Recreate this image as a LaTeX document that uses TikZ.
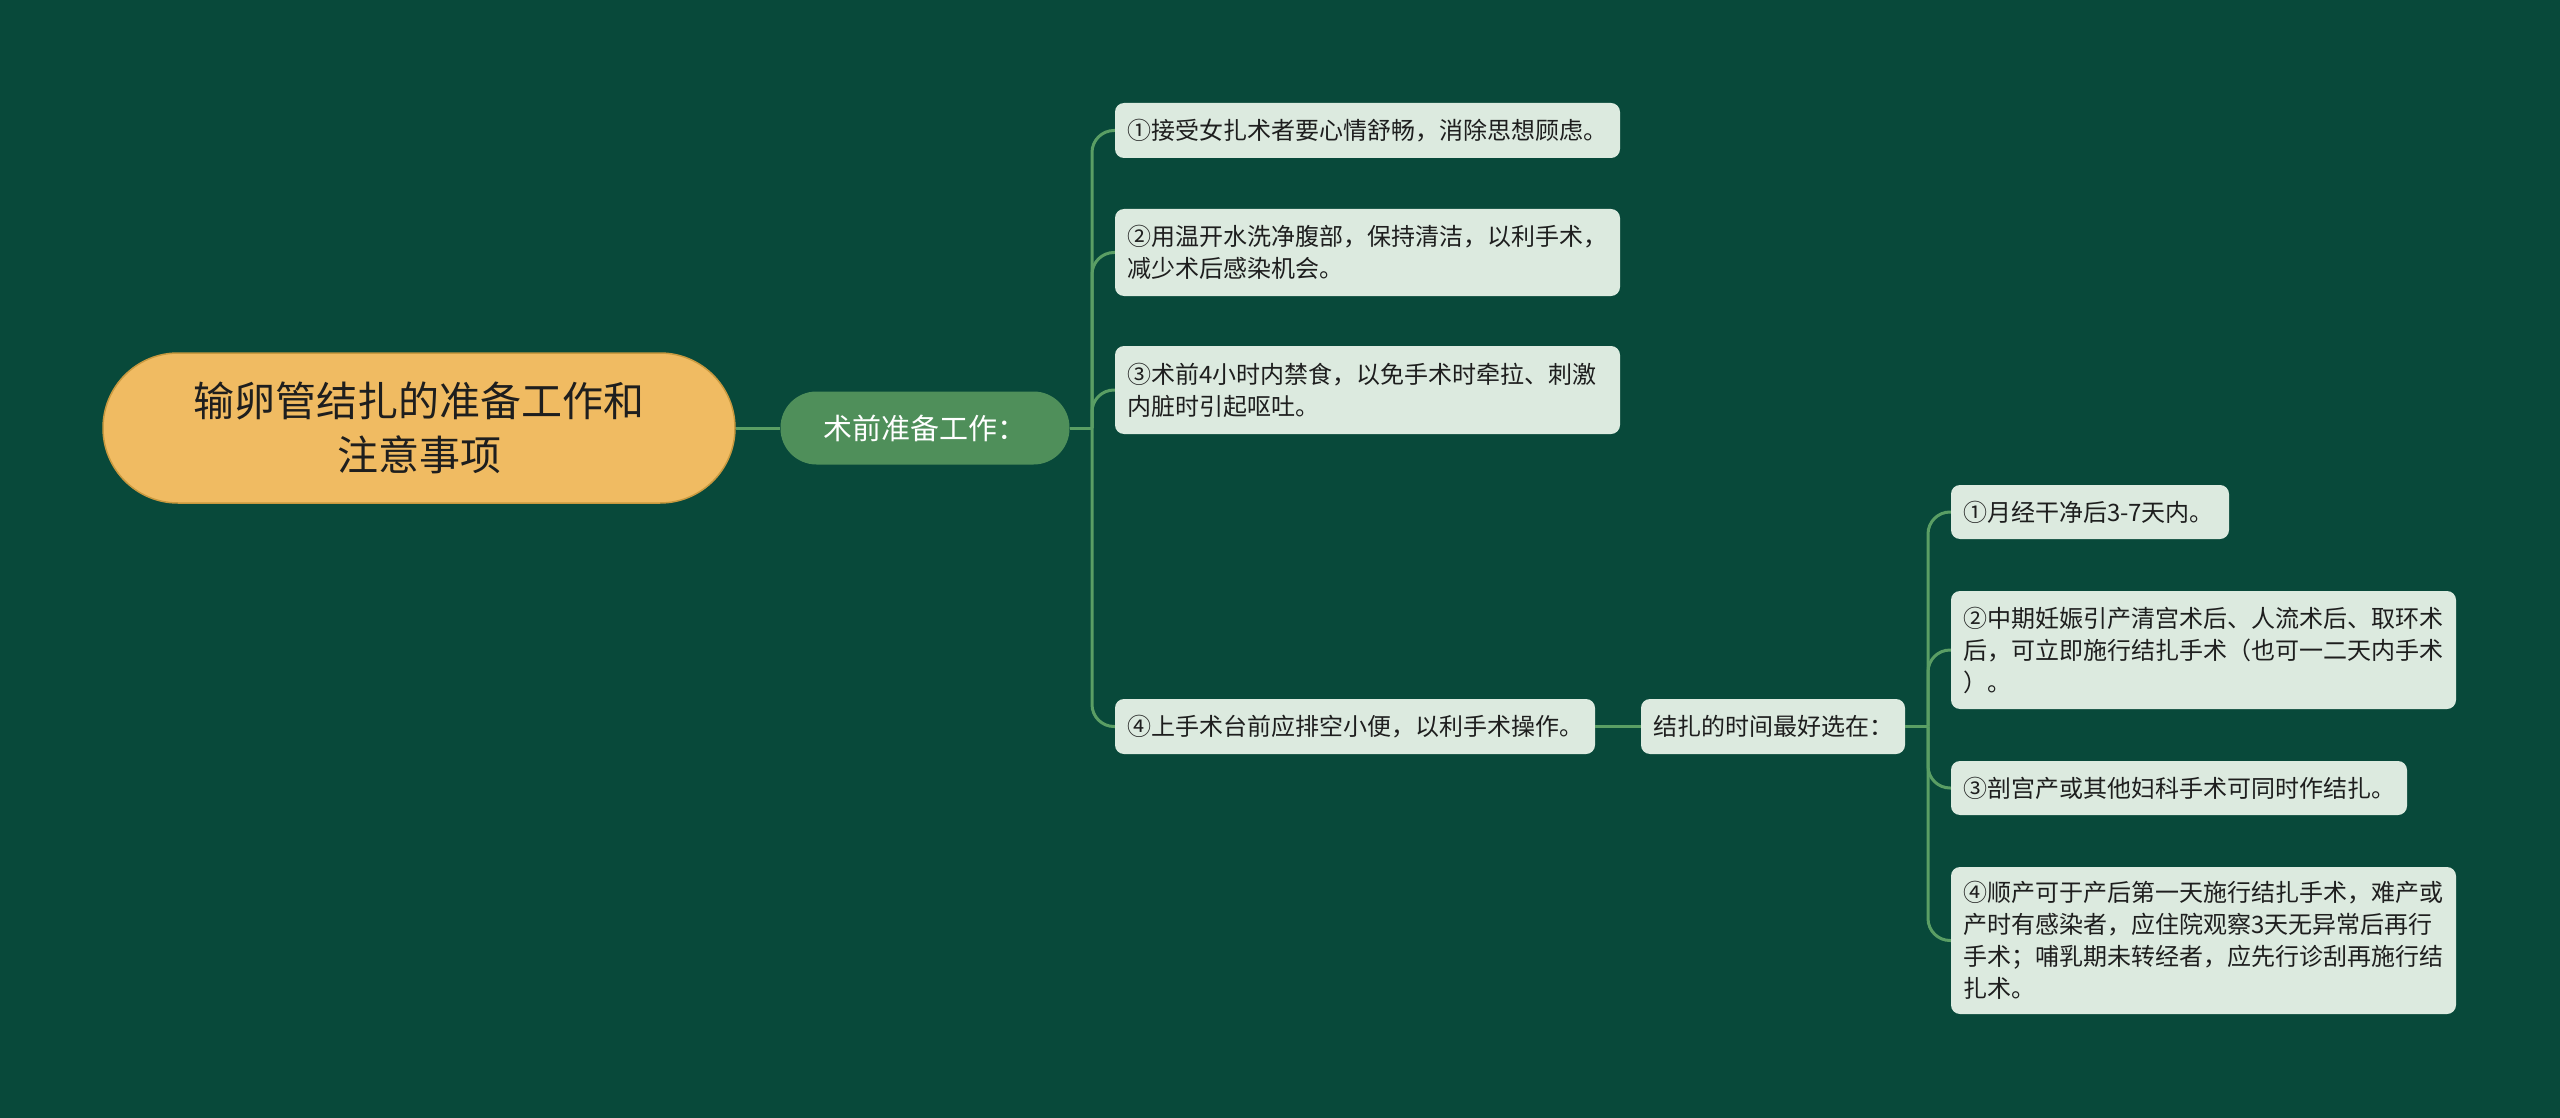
\documentclass[tikz,border=0pt]{standalone}
\usepackage{fontspec}
\newfontfamily\cjk{Noto Sans CJK SC}
\definecolor{bgc}{HTML}{08493A}
\definecolor{rootc}{HTML}{F0BB62}
\definecolor{rootb}{HTML}{C9993F}
\definecolor{midc}{HTML}{4F8F5A}
\definecolor{leafc}{HTML}{DCEADF}
\definecolor{linec}{HTML}{5A9E64}
\definecolor{txtc}{HTML}{1E1E1E}
\tikzset{
  rootbox/.style={fill=rootc, draw=rootb, line width=1.5pt, rounded corners=75pt, text=txtc, align=center,
    font=\cjk\fontsize{41}{54}\selectfont, inner sep=0pt},
  midbox/.style={fill=midc, rounded corners=36pt, text=white, align=center,
    font=\cjk\fontsize{29}{36}\selectfont, inner sep=0pt},
  leafbox/.style={fill=leafc, rounded corners=9pt, text=txtc, align=left,
    font=\cjk\fontsize{24}{32}\selectfont, inner xsep=12pt, inner ysep=0pt},
  conn/.style={draw=linec, line width=3pt},
  branch/.style={conn, rounded corners=22pt}
}
\newcommand{\leafnode}[6]{% name, cx, cy, W, H, text
  \node[leafbox, minimum width=#4pt, minimum height=#5pt, text width=#4pt-24pt] (#1) at (#2,#3) {#6};}
\begin{document}
\begin{tikzpicture}[x=1pt,y=-1pt]
\fill[bgc] (0,0) rectangle (2560,1118);
\useasboundingbox (0,0) rectangle (2560,1118);

\node[rootbox, minimum width=632pt, minimum height=150pt] (root) at (419,428) {输卵管结扎的准备工作和\\注意事项};
\node[midbox, minimum width=289pt, minimum height=73pt] (mid) at (925,428) {术前准备工作：};

\leafnode{L1}{1367.5}{130.5}{505}{55}{①接受女扎术者要心情舒畅，消除思想顾虑。}
\leafnode{L2}{1367.5}{252.5}{505}{87}{②用温开水洗净腹部，保持清洁，以利手术，\\减少术后感染机会。}
\leafnode{L3}{1367.5}{390}{505}{88}{③术前4小时内禁食，以免手术时牵拉、刺激\\内脏时引起呕吐。}
\leafnode{L4}{1355}{726.5}{480}{55}{④上手术台前应排空小便，以利手术操作。}
\leafnode{T}{1773}{726.5}{264}{55}{结扎的时间最好选在：}
\leafnode{S1}{2090}{512}{278}{54}{①月经干净后3-7天内。}
\leafnode{S2}{2203.5}{650}{505}{118}{②中期妊娠引产清宫术后、人流术后、取环术\\后，可立即施行结扎手术（也可一二天内手术\\）。}
\leafnode{S3}{2179}{788}{456}{54}{③剖宫产或其他妇科手术可同时作结扎。}
\leafnode{S4}{2203.5}{940.5}{505}{147}{④顺产可于产后第一天施行结扎手术，难产或\\产时有感染者，应住院观察3天无异常后再行\\手术；哺乳期未转经者，应先行诊刮再施行结\\扎术。}

\coordinate (j1) at (1092,428);
\coordinate (j2) at (1928,726.5);

\draw[conn] (root.east) -- (mid.west);
\draw[conn] (mid.east) -- (j1);
\foreach \n in {L1,L2,L3,L4} {\draw[branch] (j1) |- (\n.west);}
\draw[conn] (L4.east) -- (T.west);
\draw[conn] (T.east) -- (j2);
\foreach \n in {S1,S2,S3,S4} {\draw[branch] (j2) |- (\n.west);}
\end{tikzpicture}
\end{document}
